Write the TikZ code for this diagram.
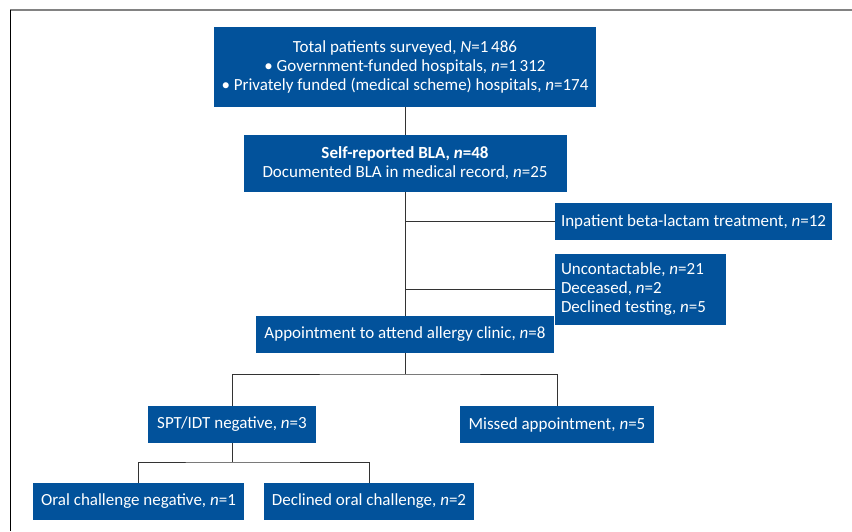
\documentclass[tikz,border=0pt]{standalone}
\usepackage{fontspec}
\setmainfont{Carlito}
\usepackage{tikz}
\usetikzlibrary{arrows.meta,positioning,calc}
\definecolor{BoxBlue}{RGB}{2,82,155}
\definecolor{LineGray}{RGB}{51,51,51}
\definecolor{FrameGray}{RGB}{130,130,130}

\begin{document}
\begin{tikzpicture}[x=1pt,y=-1pt,font=\fontsize{17}{19}\selectfont,
    flowbox/.style={fill=BoxBlue, text=white, inner xsep=8pt, inner ysep=0pt, align=center},
    link/.style={draw=LineGray, line width=0.9pt}]
      \useasboundingbox (0,0) rectangle (852,531);
      \draw[FrameGray, line width=1.6pt] (10,10)--(852,10);
      \draw[black, line width=0.8pt] (10,10)--(10,531);

      \node[flowbox, minimum width=380pt, minimum height=80pt] (total) at (405,67)
        {Total patients surveyed, \textit{N}=1\,486\\
         \textbullet\ Government-funded hospitals, \textit{n}=1\,312\\
         \textbullet\ Privately funded (medical scheme) hospitals, \textit{n}=174};
      \node[flowbox, minimum width=323pt, minimum height=57pt] (bla) at (405,163.5)
        {\textbf{Self-reported BLA, \textit{n}=48}\\
         Documented BLA in medical record, \textit{n}=25};
      \node[flowbox, inner xsep=6pt, text width=265pt, align=flush left, minimum height=37pt] (inpat) at (693.5,221.5)
        {Inpatient beta-lactam treatment, \textit{n}=12};
      \node[flowbox, inner xsep=6pt, text width=159pt, align=flush left, minimum height=71pt] (lost) at (640.5,289.5)
        {Uncontactable, \textit{n}=21\\
         Deceased, \textit{n}=2\\
         Declined testing, \textit{n}=5};
      \node[flowbox, minimum width=289pt, minimum height=37pt] (appt) at (405,334.5)
        {Appointment to attend allergy clinic, \textit{n}=8};
      \node[flowbox, minimum width=168pt, minimum height=37pt] (spt) at (232,424.5)
        {SPT/IDT negative, \textit{n}=3};
      \node[flowbox, minimum width=194pt, minimum height=37pt] (missed) at (557,424.5)
        {Missed appointment, \textit{n}=5};
      \node[flowbox, minimum width=209pt, minimum height=37pt] (oral) at (138.5,501.5)
        {Oral challenge negative, \textit{n}=1};
      \node[flowbox, minimum width=208pt, minimum height=37pt] (declined) at (369,501.5)
        {Declined oral challenge, \textit{n}=2};

      \coordinate (split1) at (405,374);
      \coordinate (split2) at (232,462);

      \draw[link] (total.south)--(bla.north);
      \draw[link] (bla.south)--(appt.north);
      \draw[link] (inpat.west)--(inpat.west -| bla.south);
      \draw[link] (lost.west)--(lost.west -| bla.south);
      \draw[link] (appt.south)--(split1);
      \draw[link] (spt.north) |- (split1) -| (missed.north);
      \draw[link] (spt.south)--(split2);
      \draw[link] (oral.north) |- (split2) -| (declined.north);
    \end{tikzpicture}
\end{document}
